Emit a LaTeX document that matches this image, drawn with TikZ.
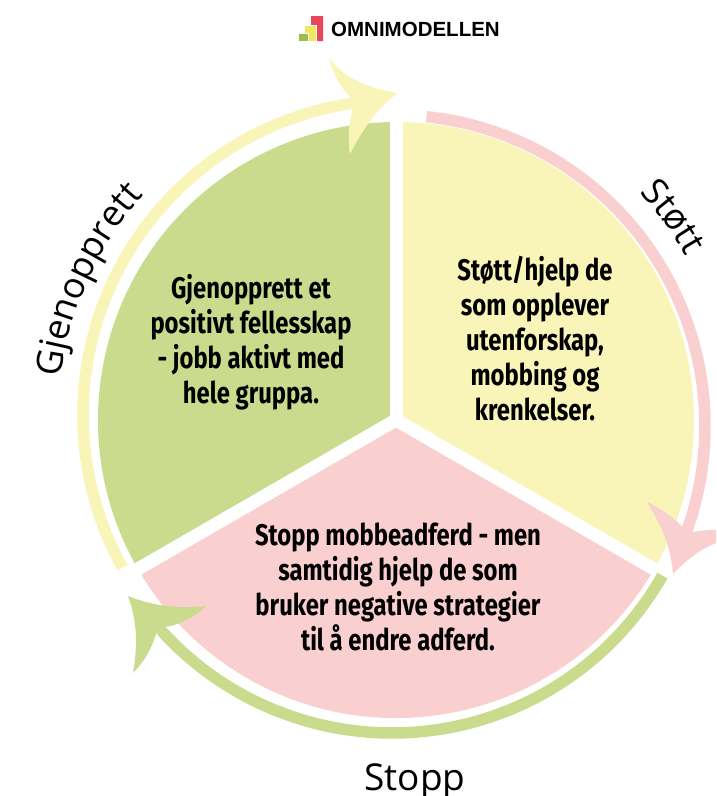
\documentclass[tikz,border=0pt]{standalone}
\usepackage{fontspec}
\usetikzlibrary{decorations.text}
\setmainfont{Open Sans}
\newfontfamily\bodybold[FakeStretch=0.80]{Fira Sans}
\newfontfamily\logofont{Liberation Sans}
\definecolor{cgreen}{HTML}{CBDB8E}
\definecolor{cyellow}{HTML}{F9F4B8}
\definecolor{cpink}{HTML}{F9CFD0}
\definecolor{lred}{HTML}{E8465A}
\definecolor{lyellow}{HTML}{F0E860}
\definecolor{lgreen}{HTML}{9DBF4A}
\tikzset{
  bodytext/.style={align=center,text=black,font=\bodybold\bfseries\fontsize{29.8}{35}\selectfont,inner sep=0pt},
  ringarc/.style={line width=11.5pt,line cap=butt},
  gapline/.style={draw=white,line width=13pt},
  sidelabel/.style={text=black,font=\fontsize{37}{40}\selectfont,inner sep=0pt},
  logobar/.style={draw=white,line width=.6pt},
}
\begin{document}
\begin{tikzpicture}[x=1pt,y=1pt]
\useasboundingbox (0,0) rectangle (716,-796);
\clip (0,0) rectangle (716,-796);
% sectors
\coordinate (c) at (396,-420);
\fill[cyellow] (c) -- ++(90:298) arc (90:-30:298) -- cycle;
\fill[cpink] (c) -- ++(-30:298) arc (-30:-150:298) -- cycle;
\fill[cgreen] (c) -- ++(-150:298) arc (210:90:298) -- cycle;
\coordinate (gt) at (396,-100);
\path (c) ++(-30:320) coordinate (gr);
\path (c) ++(210:320) coordinate (gl);
\draw[gapline] (c) -- (gt);
\draw[gapline] (c) -- (gr);
\draw[gapline] (c) -- (gl);
% outer ring arcs
\draw[ringarc,cyellow] (398,-415) ++(209:315) arc (209:98:315);
\draw[ringarc,cpink] (394,-426) ++(84:311) arc (84:-20:311);
\draw[ringarc,cgreen] (392,-422) ++(-29.6:311) arc (-29.6:-138:311);
% arrowheads
\fill[cyellow] (398,-93) .. controls (365,-88) and (342,-76) .. (329,-58)
  .. controls (333,-74) and (341,-88) .. (351,-98) -- (353,-109)
  .. controls (348,-125) and (348,-140) .. (350,-154)
  .. controls (362,-130) and (378,-107) .. (398,-93) -- cycle;
\fill[cpink] (673,-574) .. controls (671,-548) and (662,-526) .. (647,-502)
  .. controls (662,-509) and (675,-518) .. (684,-529) -- (694,-532)
  .. controls (702,-530) and (710,-530) .. (722,-530) -- (722,-541)
  .. controls (705,-546) and (688,-558) .. (673,-574) -- cycle;
\fill[cgreen] (128,-596) .. controls (152,-606) and (180,-609) .. (206,-606)
  .. controls (195,-617) and (180,-625) .. (165,-627) -- (156,-634)
  .. controls (152,-648) and (144,-662) .. (133,-673)
  .. controls (138,-645) and (137,-620) .. (128,-596) -- cycle;
% logo
\fill[lred] (311,-22) -- (311,-16) -- (323,-16) -- (323,-41) -- (311,-41) -- cycle;
\filldraw[lyellow,logobar] (304,-41) rectangle (316,-25);
\filldraw[lgreen,logobar] (298,-41) rectangle (308,-33);
\node[anchor=west,inner sep=0pt,font=\logofont\bfseries\fontsize{20.5}{20.5}\selectfont] (logo) at (331,-29) {OMNIMODELLEN};
% sector texts
\node[bodytext] (tstott) at (535,-339) {Støtt/hjelp de\\som opplever\\utenforskap,\\mobbing og\\krenkelser.};
\node[bodytext] (tgjen) at (251,-342) {Gjenopprett et\\positivt fellesskap\\- jobb aktivt med\\hele gruppa.};
\node[bodytext] (tstopp) at (398,-587) {Stopp mobbeadferd - men\\samtidig hjelp de som\\bruker negative strategier\\til å endre adferd.};
% side labels
\node[sidelabel] (stopp) at (415,-782) {Stopp};
\path[decorate,decoration={text along path,text={|\fontsize{36}{40}\selectfont|Gjenopprett},text align=center}]
  (396,-420) ++(173.5:338) arc (173.5:137.5:338);
\path[decorate,decoration={text along path,text={|\fontsize{36}{40}\selectfont|Støtt},text align=center}]
  (396,-420) ++(44.3:333) arc (44.3:28.3:333);
\end{tikzpicture}
\end{document}
